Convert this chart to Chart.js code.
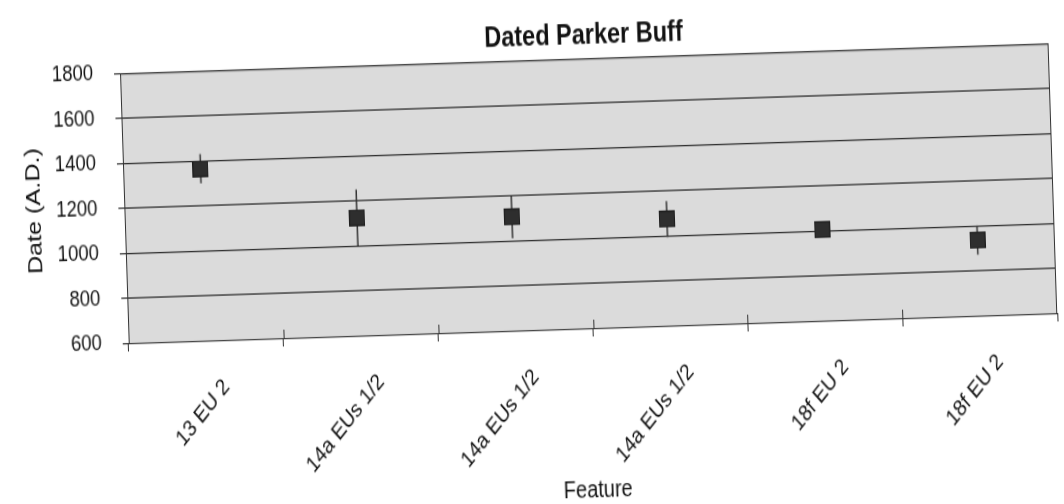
<!DOCTYPE html>
<html>
<head>
<meta charset="utf-8">
<script src="https://cdn.jsdelivr.net/npm/chart.js@4.4.1/dist/chart.umd.min.js"></script>
<style>
html, body { margin: 0; padding: 0; background: #fff; overflow: hidden; width: 1064px; height: 504px; }
/* the scan is a bit crooked and stretched tall, so tilt and stretch the whole chart */
#wrap { position: absolute; left: 0; top: 42px; width: 1064px; height: 420px;
        transform-origin: 532px 210px; transform: rotate(-1.85deg) scaleY(1.2); }
</style>
</head>
<body>
<div id="wrap"><canvas id="myChart" width="1064" height="420"></canvas></div>
<script>
// data
var features = ["13 EU 2", "14a EUs 1/2", "14a EUs 1/2", "14a EUs 1/2", "18f EU 2", "18f EU 2"];
var dates = [1365, 1125, 1106, 1074, 1005, 936];
var errors = [65, 125, 95, 80, 10, 65];
var yTicks = [600, 800, 1000, 1200, 1400, 1600, 1800];

var fontName = "'Liberation Sans', Arial, sans-serif";

// square marker, squashed so it comes out square after the stretch
var marker = document.createElement('canvas');
marker.width = 16;
marker.height = 14;
var mctx = marker.getContext('2d');
mctx.fillStyle = '#2e2e2e';
mctx.fillRect(0, 0, 16, 14);
mctx.strokeStyle = '#1e1e1e';
mctx.strokeRect(0.5, 0.5, 15, 13);

// grey plot area + frame
var plotBack = {
    id: 'plotBack',
    beforeDraw: function(chart){
        var a = chart.chartArea, ctx = chart.ctx;
        ctx.save();
        ctx.fillStyle = '#dbdbdb';
        ctx.fillRect(a.left, a.top, a.right - a.left, a.bottom - a.top);
        ctx.restore();
    },
    afterDraw: function(chart){
        var a = chart.chartArea, ctx = chart.ctx, x = chart.scales.x;
        ctx.save();
        ctx.strokeStyle = '#333';
        ctx.lineWidth = 1;
        ctx.strokeRect(a.left + 0.5, a.top + 0.5, a.right - a.left - 1, a.bottom - a.top);
        // tick marks also poke up into the plot
        for (var i = 1; i < features.length; i++) {
            var px = Math.round(x.getPixelForValue(i - 0.5)) + 0.5;
            ctx.beginPath();
            ctx.moveTo(px, a.bottom);
            ctx.lineTo(px, a.bottom - 7);
            ctx.stroke();
        }
        ctx.restore();
    }
};

// vertical error bars, drawn under the markers
var errorBars = {
    id: 'errorBars',
    beforeDatasetsDraw: function(chart){
        var ctx = chart.ctx, x = chart.scales.x, y = chart.scales.y;
        ctx.save();
        ctx.strokeStyle = '#333';
        ctx.lineWidth = 1.5;
        for (var i = 0; i < dates.length; i++) {
            var px = x.getPixelForValue(i);
            ctx.beginPath();
            ctx.moveTo(px, y.getPixelForValue(dates[i] + errors[i]));
            ctx.lineTo(px, y.getPixelForValue(dates[i] - errors[i]));
            ctx.stroke();
        }
        ctx.restore();
    }
};

var ctx = document.getElementById("myChart").getContext('2d');
var myChart = new Chart(ctx, {
    type: 'line',
    data: {
        labels: features,
        datasets: [{
            data: dates,
            showLine: false,
            pointStyle: marker,
            pointRadius: 8,
            pointHoverRadius: 8
        }]
    },
    options: {
        responsive: false,
        animation: false,
        layout: { padding: { left: 0, right: 8, top: 0, bottom: 0 } },
        plugins: {
            legend: { display: false },
            tooltip: { enabled: false },
            title: {
                display: true,
                text: 'Dated Parker Buff',
                fullSize: false,
                color: '#111',
                font: { family: fontName, size: 23.5, weight: 'bold' },
                padding: { top: 17, bottom: 5 }
            }
        },
        scales: {
            x: {
                type: 'category',
                offset: true,
                afterFit: function(scale){ scale.height = 145; },
                grid: {
                    offset: true,
                    drawOnChartArea: false,
                    drawTicks: true,
                    tickLength: 7,
                    color: '#333'
                },
                border: { display: true, color: '#222', width: 1 },
                ticks: {
                    autoSkip: false,
                    minRotation: 45,
                    maxRotation: 45,
                    padding: 21,
                    labelOffset: 19,
                    color: '#111',
                    font: { family: fontName, size: 19 }
                },
                title: {
                    display: true,
                    text: 'Feature',
                    color: '#111',
                    font: { family: fontName, size: 20, lineHeight: 1 },
                    padding: { top: 0, bottom: 0 }
                }
            },
            y: {
                min: 600,
                max: 1800,
                afterFit: function(scale){ scale.width = 126; },
                afterBuildTicks: function(scale){
                    scale.ticks = yTicks.map(function(v){ return { value: v }; });
                },
                grid: {
                    color: '#1a1a1a',
                    lineWidth: 1,
                    drawTicks: true,
                    tickLength: 6
                },
                border: { display: true, color: '#222', width: 1 },
                ticks: {
                    padding: 21,
                    color: '#111',
                    font: { family: fontName, size: 18.5 },
                    callback: function(v){ return String(v); }
                },
                title: {
                    display: true,
                    text: 'Date (A.D.)',
                    color: '#111',
                    font: { family: fontName, size: 21 },
                    padding: { top: 24, bottom: 0 }
                }
            }
        }
    },
    plugins: [plotBack, errorBars]
});
</script>
</body>
</html>
